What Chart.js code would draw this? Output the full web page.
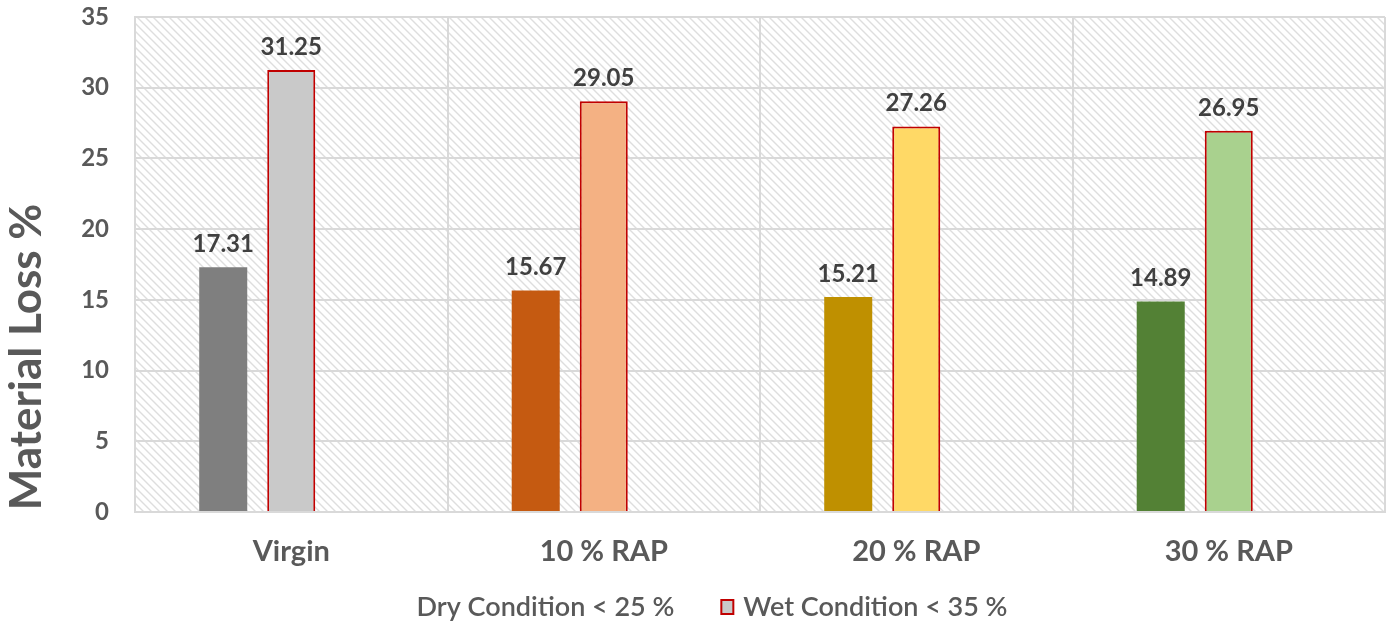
<!DOCTYPE html>
<html>
<head>
<meta charset="utf-8">
<script src="https://cdn.jsdelivr.net/npm/chart.js@4/dist/chart.umd.min.js"></script>
<style>
  html, body { margin: 0; padding: 0; background: #fff; }
  #wrap { width: 1387px; height: 624px; }
</style>
</head>
<body>
<div id="wrap"><canvas id="chart" width="1387" height="624"></canvas></div>
<script>
const categories = ["Virgin", "10 % RAP", "20 % RAP", "30 % RAP"];
const dryValues = [17.31, 15.67, 15.21, 14.89];
const wetValues = [31.25, 29.05, 27.26, 26.95];
const dryColors = ["#7f7f7f", "#c55a11", "#bf9000", "#538135"];
const wetColors = ["#c9c9c9", "#f4b183", "#ffd966", "#a9d18e"];
const seriesNames = ["Dry Condition < 25 %", "Wet Condition < 35 %"];
const yTicks = [0, 5, 10, 15, 20, 25, 30, 35];
const yTitle = "Material Loss %";

const FONT = "Lato, 'Open Sans', sans-serif";
const GREY = "#595959";

// diagonal hatch tile for the plot area
function makeHatch(ctx) {
  const tile = document.createElement("canvas");
  tile.width = 8;
  tile.height = 8;
  const t = tile.getContext("2d");
  t.fillStyle = "#ffffff";
  t.fillRect(0, 0, 8, 8);
  t.strokeStyle = "#dedede";
  t.lineWidth = 1.4;
  t.beginPath();
  t.moveTo(-2, -2); t.lineTo(10, 10);
  t.moveTo(-2, 6); t.lineTo(2, 10);
  t.moveTo(6, -2); t.lineTo(10, 2);
  t.stroke();
  return ctx.createPattern(tile, "repeat");
}

const hatchPlugin = {
  id: "hatch",
  beforeDraw(chart) {
    const { ctx, chartArea: a } = chart;
    ctx.save();
    ctx.fillStyle = makeHatch(ctx);
    ctx.fillRect(a.left, a.top, a.right - a.left, a.bottom - a.top);
    ctx.restore();
  }
};

const valueLabels = {
  id: "valueLabels",
  afterDatasetsDraw(chart) {
    const ctx = chart.ctx;
    ctx.save();
    ctx.font = "bold 24px " + FONT;
    ctx.fillStyle = "#404040";
    ctx.textAlign = "center";
    ctx.textBaseline = "bottom";
    [0, 1].forEach((di) => {
      const meta = chart.getDatasetMeta(di);
      meta.data.forEach((bar, i) => {
        const v = chart.data.datasets[di].data[i];
        ctx.fillText(v.toFixed(2), bar.x, bar.y - 11);
      });
    });
    ctx.restore();
  }
};

// y title and legend drawn by hand so they sit where the original has them
const extras = {
  id: "extras",
  afterDraw(chart) {
    const ctx = chart.ctx;
    ctx.save();
    ctx.translate(27, 357);
    ctx.rotate(-Math.PI / 2);
    ctx.font = "bold 44px " + FONT;
    ctx.fillStyle = GREY;
    ctx.textAlign = "center";
    ctx.textBaseline = "middle";
    ctx.fillText(yTitle, 0, 0);
    ctx.restore();

    ctx.save();
    ctx.font = "600 27px " + FONT;
    ctx.textBaseline = "middle";
    ctx.textAlign = "left";
    const box = 12, gap = 10, between = 47;
    const w0 = ctx.measureText(seriesNames[0]).width;
    const w1 = ctx.measureText(seriesNames[1]).width;
    const total = w0 + between + box + gap + w1;
    let x = 712 - total / 2;
    const y = 607;
    ctx.fillStyle = GREY;
    ctx.fillText(seriesNames[0], x, y);
    x += w0 + between;
    ctx.fillStyle = wetColors[0];
    ctx.fillRect(x, y - 7, box, 14);
    ctx.strokeStyle = "#c00000";
    ctx.lineWidth = 2;
    ctx.strokeRect(x, y - 7, box, 14);
    x += box + gap;
    ctx.fillStyle = GREY;
    ctx.fillText(seriesNames[1], x, y);
    ctx.restore();
  }
};

new Chart(document.getElementById("chart"), {
  type: "bar",
  data: {
    labels: categories,
    datasets: [
      {
        label: seriesNames[0],
        data: dryValues,
        backgroundColor: dryColors,
        borderWidth: 0
      },
      {
        label: seriesNames[1],
        data: wetValues,
        backgroundColor: wetColors,
        borderColor: "#c00000",
        borderWidth: 2
      },
      {
        label: "",
        data: [null, null, null, null]
      }
    ]
  },
  options: {
    responsive: false,
    animation: false,
    categoryPercentage: 0.653,
    barPercentage: 0.706,
    layout: { padding: { top: 0, right: 2, left: 0, bottom: 0 } },
    plugins: {
      tooltip: { enabled: false },
      legend: { display: false }
    },
    scales: {
      x: {
        grid: { color: "#d9d9d9", lineWidth: 2, drawTicks: false },
        border: { color: "#d9d9d9", width: 2 },
        ticks: {
          font: { family: FONT, size: 29, weight: "bold" },
          color: GREY,
          padding: 22
        },
        afterFit(scale) { scale.height = 112; }
      },
      y: {
        min: 0,
        max: 35,
        afterBuildTicks(scale) { scale.ticks = yTicks.map((v) => ({ value: v })); },
        grid: { color: "#d9d9d9", lineWidth: 2, drawTicks: false },
        border: { color: "#d9d9d9", width: 2 },
        ticks: {
          font: { family: FONT, size: 24, weight: "bold" },
          color: GREY,
          padding: 26
        },
        afterFit(scale) {
          scale.width = 135;
          scale.paddingTop = 17;
          scale.paddingBottom = 0;
        }
      }
    }
  },
  plugins: [hatchPlugin, valueLabels, extras]
});
</script>
</body>
</html>
